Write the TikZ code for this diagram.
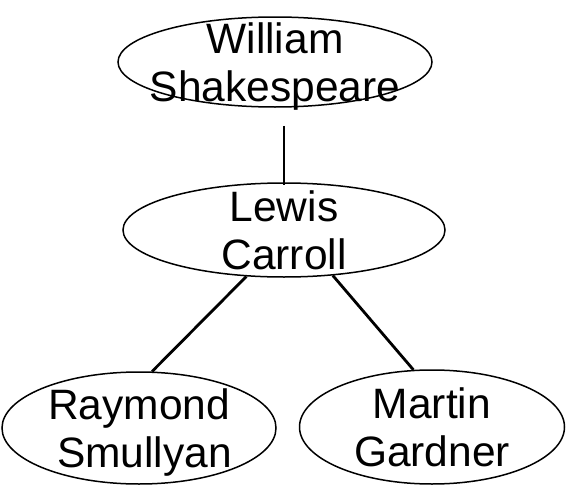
\documentclass[tikz,border=0pt]{standalone}
\usepackage{fontspec}
\setmainfont{Liberation Sans}
\usetikzlibrary{shapes.geometric}
\tikzset{
  person/.style={draw,ellipse,line width=1.5pt,inner xsep=-60pt,inner ysep=-25pt,align=center,
    text depth=0pt,font=\fontsize{42.5}{47.5}\selectfont}, % Personen
  Linie/.style={line width=2.8pt} % Verbindungen
}
\begin{document}
\begin{tikzpicture}[x=1pt,y=-1pt]
\useasboundingbox (0,0) rectangle (566,490);

%Personen
\node[person,minimum width=314pt,minimum height=90pt] (shakespeare) at (275,62) {William\\Shakespeare};
\node[person,minimum width=322pt,minimum height=94pt] (carroll) at (284,230) {Lewis\\Carroll};
\node[person,minimum width=274pt,minimum height=112pt] (smullyan) at (139,428) {Raymond\\\hspace*{11pt}Smullyan};
\node[person,minimum width=265pt,minimum height=114pt] (gardner) at (432,427) {Martin\\Gardner};

%Verbindungen
\draw[Linie,shorten <=18pt,shorten >=-3pt] (carroll.north |- shakespeare.south) -- (carroll.north);
\draw[Linie] (carroll.231) -- (smullyan.77);
\draw[Linie] (carroll.-43) -- (gardner.108);
\end{tikzpicture}
\end{document}
